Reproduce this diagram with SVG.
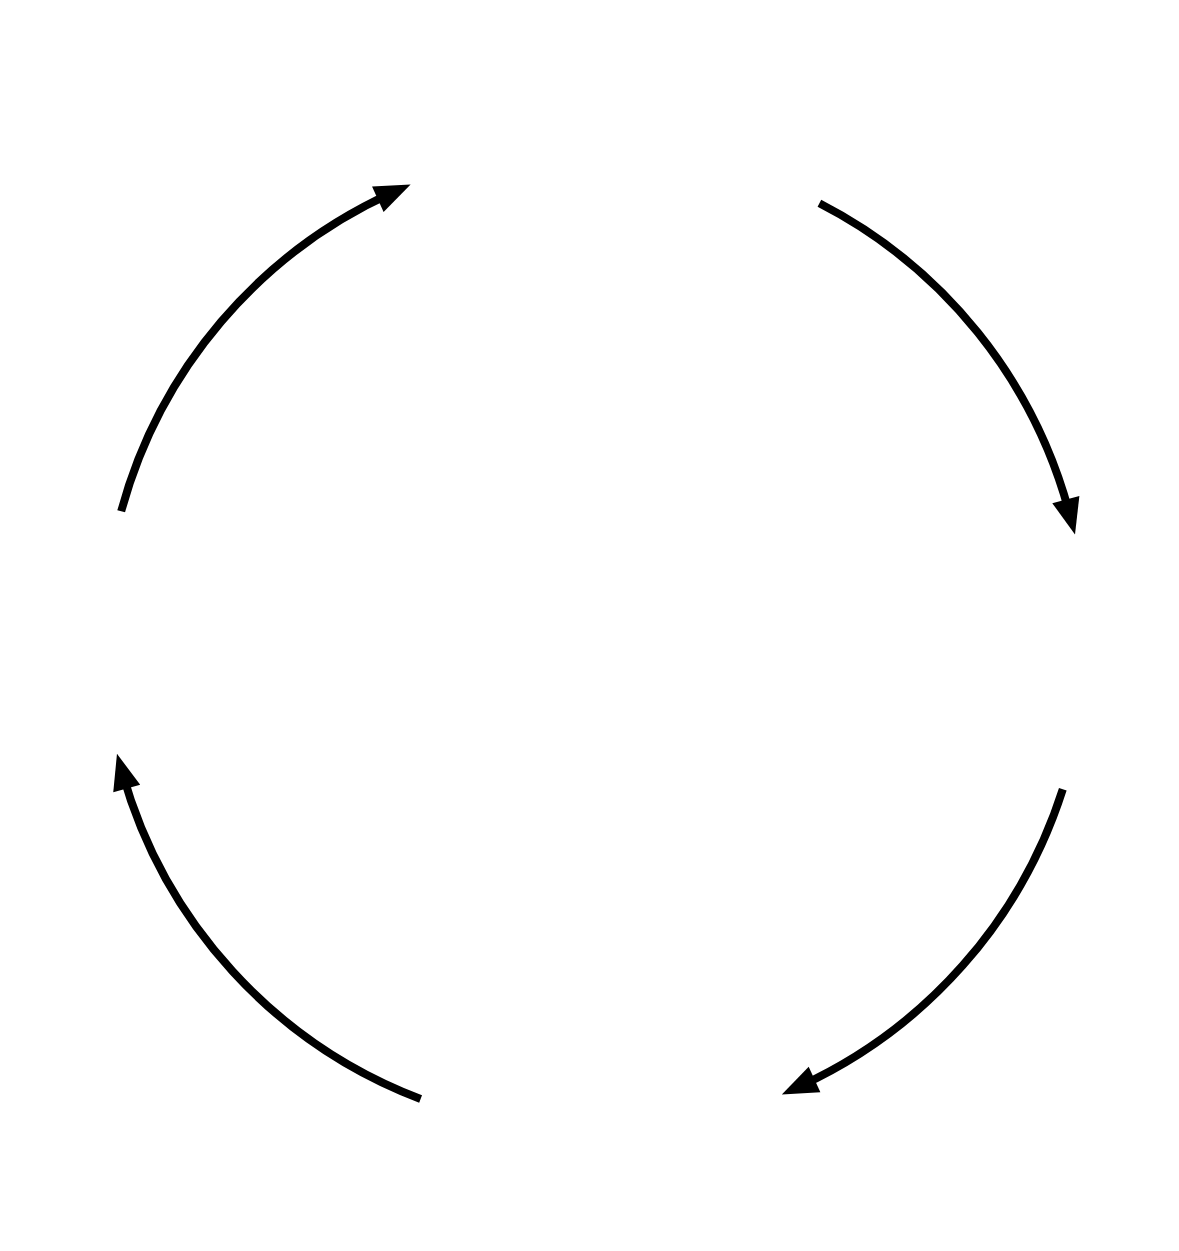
<svg xmlns="http://www.w3.org/2000/svg" width="1179" height="1251" viewBox="0 0 1179 1251">
  <style>
    .arc { fill: none; stroke: #000; stroke-width: 8; stroke-linecap: butt; marker-end: url(#head); }
  </style>
  <defs>
    <marker id="head" markerUnits="userSpaceOnUse" viewBox="0 0 36 32" markerWidth="36" markerHeight="32" refX="16" refY="16" orient="auto" overflow="visible">
      <path d="M0,2 L36,16 L0,30 z" fill="#000"/>
    </marker>
  </defs>
  <rect width="1179" height="1251" fill="#fff"/>
  <g id="connectors">
    <path id="arc-top-left" class="arc" d="M121.2,511.3 A491,491 0 0 1 392.4,192.7"/>
    <path id="arc-top-right" class="arc" d="M819.4,203.3 A491,491 0 0 1 1069.9,515.1"/>
    <path id="arc-bottom-right" class="arc" d="M1062.8,789.3 A491,491 0 0 1 800.0,1086.2"/>
    <path id="arc-bottom-left" class="arc" d="M420.6,1099.0 A491,491 0 0 1 122.4,773.1"/>
  </g>
</svg>
